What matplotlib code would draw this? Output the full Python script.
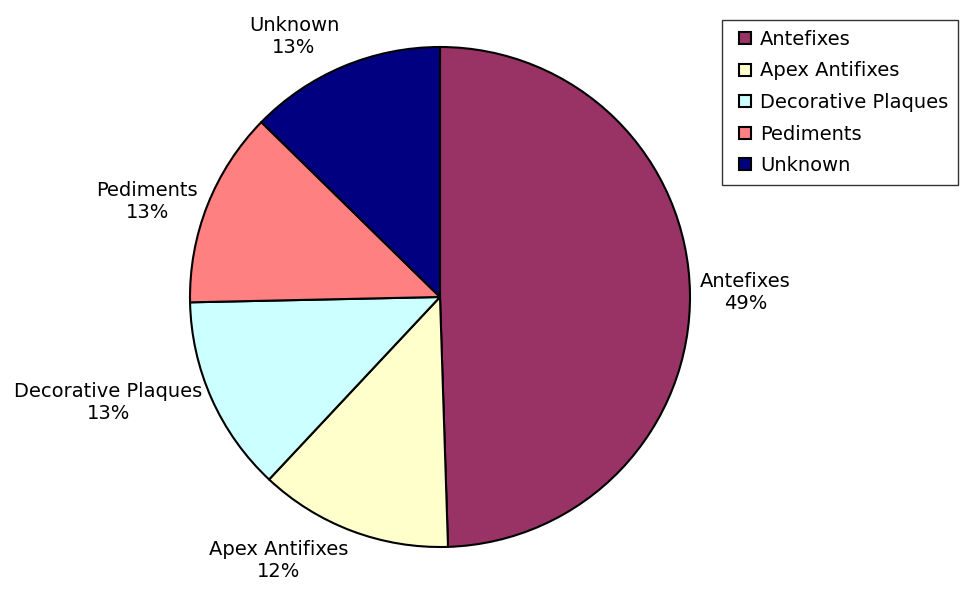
import numpy as np
import matplotlib
matplotlib.use("Agg")
import matplotlib.pyplot as plt
from matplotlib.lines import Line2D

# share of finds by type (percent)
categories = ["Antefixes", "Apex Antifixes", "Decorative Plaques", "Pediments", "Unknown"]
values = [49.49, 12.49, 12.68, 12.67, 12.67]
colors = ["#993366", "#FFFFCC", "#CCFFFF", "#FF8080", "#000080"]

plt.rcParams['font.family'] = 'DejaVu Sans'

fig = plt.figure(figsize=(9.64, 5.9), dpi=100)
ax = fig.add_axes([190/964, 43/590, 500/964, 500/590])

wedges, _ = ax.pie(values, colors=colors, startangle=90, counterclock=False,
                   wedgeprops=dict(edgecolor='black', linewidth=1.5))
ax.set_xlim(-1, 1)
ax.set_ylim(-1, 1)
ax.set_aspect('equal')

total = sum(values)
for w, name, v in zip(wedges, categories, values):
    ang = np.deg2rad((w.theta1 + w.theta2) / 2)
    c, s = np.cos(ang), np.sin(ang)
    ha = 'left' if c > 0.1 else ('right' if c < -0.1 else 'center')
    if s > 0.6:
        va = 'bottom'
    elif s < -0.6:
        va = 'top'
    else:
        va = 'center'
    txt = "%s\n%.0f%%" % (name, 100 * v / total)
    ax.text(1.04 * c, 1.04 * s, txt, ha=ha, va=va, fontsize=14,
            multialignment='center', linespacing=1.2)

# square swatches with black outline
handles = [Line2D([], [], linestyle='none', marker='s', markersize=8,
                  markerfacecolor=col, markeredgecolor='black', markeredgewidth=1.5)
           for col in colors]
leg = fig.legend(handles, categories, loc='upper left',
                 bbox_to_anchor=(722/964, 1 - 20/590), fontsize=14,
                 frameon=True, fancybox=False, edgecolor='black',
                 handlelength=1.4, handletextpad=0.05,
                 labelspacing=0.65, borderpad=0.5, borderaxespad=0)
leg.get_frame().set_linewidth(1.0)

fig.savefig("out.png", dpi=100)
